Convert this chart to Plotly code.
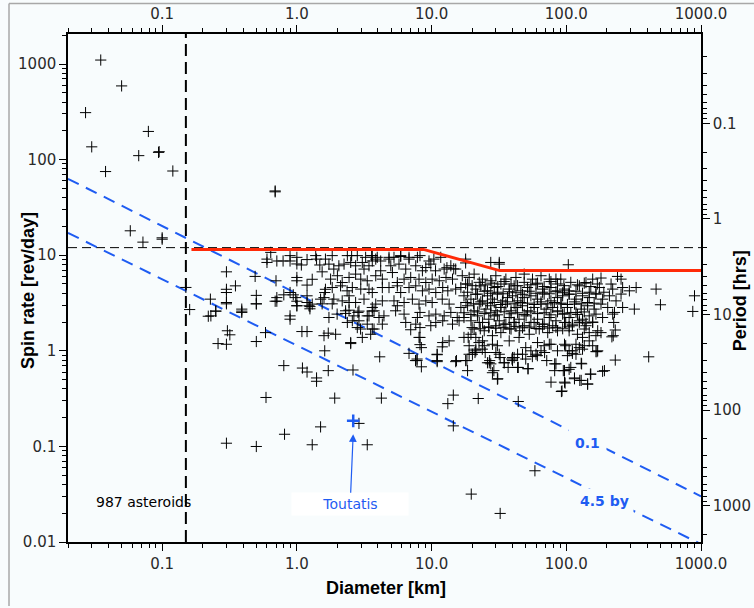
import math
import plotly.graph_objects as go

# ---------------- data ----------------
# very small / fast rotators (left of the 0.15 km line)
diam_small = [0.035, 0.05, 0.027, 0.030, 0.038, 0.067, 0.079, 0.094, 0.095, 0.12, 0.058, 0.072, 0.10, 0.10, 0.69, 0.69]
spin_small = [1100, 590, 310, 136, 75, 110, 197, 119, 121, 76, 18, 13.7, 14.7, 15.2, 47, 46]

# sparse points 0.15 - 4 km
diam_a = [0.16, 0.15, 0.22, 0.25, 0.30, 0.39, 0.50, 0.69, 1.0, 1.25, 1.25, 1.54, 1.83, 2.44, 2.44, 2.3, 2.89, 3.33, 3.63, 2.58,
          2.89, 2.97, 3.63, 0.26, 0.30, 0.305, 0.318, 0.50, 0.585, 1.09, 1.19, 1.59, 1.71, 1.61, 2.51, 0.80, 1.10, 1.19, 1.40, 1.40,
          1.71, 2.61, 0.59, 1.91, 0.30, 0.50, 0.81, 1.30, 1.50, 2.89, 3.33]
spin_a = [2.7, 4.6, 2.3, 2.6, 3.1, 2.6, 3.1, 3.3, 2.96, 2.9, 2.75, 3.1, 3.1, 3.2, 2.66, 2.46, 2.6, 2.32, 2.6, 2.06,
          2.06, 1.69, 1.69, 1.19, 1.17, 1.62, 1.47, 1.25, 1.55, 1.59, 1.59, 1.44, 1.53, 1.0, 1.19, 0.70, 0.66, 0.60, 0.52, 0.48,
          0.62, 0.63, 0.325, 0.32, 0.108, 0.0998, 0.134, 0.104, 0.16, 0.174, 0.104]

# sparse slow rotators 4 - 900 km
diam_b = [4.12, 6.8, 7.8, 7.8, 8.2, 8.4, 8.4, 11, 11, 12, 15.1, 4.24, 14.5, 13.2, 14.5, 22.2, 44, 92, 58.5, 19.7,
          32.3, 409, 869, 500, 320, 231, 192, 144, 126, 115, 98, 77, 82, 82, 95, 105, 130, 151, 169, 52,
          44, 37, 39.5, 41, 31, 29, 26, 27, 18.5, 15.3, 18.3, 11, 11, 7.6, 8.2, 7.0]
spin_b = [0.865, 0.94, 0.82, 0.79, 1.16, 1.08, 0.68, 0.91, 0.77, 1.1, 0.77, 0.32, 0.344, 0.28, 0.164, 0.317, 0.295, 0.375, 0.0556, 0.0317,
          0.0199, 0.865, 2.58, 3.03, 2.73, 0.80, 0.62, 0.448, 0.49, 0.51, 0.46, 0.47, 0.62, 0.73, 0.62, 0.64, 0.73, 0.57, 0.98, 0.65,
          0.67, 0.67, 0.82, 0.85, 0.51, 0.62, 0.75, 0.79, 0.62, 0.79, 0.79, 0.79, 0.92, 0.79, 1.38, 1.66]

diam_c = [18.7, 21.3, 22.5, 21.3, 19, 23.8, 25, 30, 28.3, 32.3, 34.6, 50, 56, 61, 69, 77, 86, 97, 105, 111,
          118, 132, 132, 148, 166, 171, 223, 231]
spin_c = [1.38, 1.38, 1.22, 1.0, 0.92, 1.04, 0.96, 0.96, 1.17, 0.85, 0.75, 0.82, 0.87, 0.89, 0.96, 1.17, 1.0, 1.17, 1.0, 0.94,
          1.17, 1.04, 1.38, 1.27, 1.44, 1.0, 1.44, 1.65]

# 0.2 - 1.7 km
diam_d = [0.64, 0.60, 0.60, 0.71, 0.79, 0.89, 0.89, 1.0, 1.0, 1.19, 1.38, 1.4, 1.48, 1.63, 1.08, 1.54, 0.30, 0.49, 0.70, 1.0,
          1.0, 1.3, 1.19, 1.63, 1.61, 0.35, 0.30, 0.30, 0.5, 0.5, 0.71, 0.71, 0.80, 0.89, 0.94, 0.98, 1.0, 1.0, 1.19, 1.19,
          1.23, 1.3, 1.5, 1.59, 0.39, 0.39, 0.25, 0.23, 0.228, 0.30, 0.89, 0.89]
spin_d = [10.7, 9.1, 8.4, 8.7, 8.7, 9.9, 8.7, 9.5, 8.1, 9.0, 9.9, 9.1, 7.9, 9.1, 7.9, 6.7, 6.7, 6.0, 5.4, 5.85,
          5.4, 5.6, 4.87, 4.4, 4.07, 4.78, 4.4, 4.07, 3.8, 3.1, 3.6, 3.3, 3.85, 4.07, 3.85, 3.6, 3.3, 2.96, 3.76, 3.2,
          2.96, 3.08, 3.47, 3.6, 2.73, 2.52, 2.6, 2.32, 3.47, 3.2, 2.32, 2.14]

# 1.7 - 16 km
diam_e = [1.83, 2.37, 2.55, 2.81, 3.24, 3.59, 3.85, 4.19, 4.83, 5.26, 5.9, 6.8, 7.85, 9.57, 10.4, 11.7,
          1.73, 1.88, 2.05, 2.24, 2.51, 2.73, 3.06, 3.15, 3.43, 3.63, 4.19, 4.98, 5.73, 6.43, 7.63, 8.55, 9.06, 9.87, 10.7, 12.4, 13.9, 15.1,
          1.78, 2.0, 2.17, 2.44, 2.73, 2.98, 3.33, 3.85, 4.31, 5.12, 5.57, 6.25, 7.0, 8.07, 9.06, 10.1, 11.4, 12.8, 14.3,
          1.83, 2.11, 2.36, 2.58, 2.98, 3.43, 3.63, 4.31, 4.83, 5.57, 5.9, 6.8, 7.63, 8.55, 9.57, 10.75, 12.1, 13.2, 15.1,
          1.88, 2.17, 2.44, 2.73, 3.15, 3.63, 3.85, 4.31, 5.26, 5.57, 6.25, 7.2, 8.07, 9.06, 10.1, 12.0, 13.5,
          1.73, 1.99, 2.3, 2.65, 2.84, 3.43, 3.74, 4.07, 4.43, 5.41, 6.25, 7.85, 8.2, 9.57, 10.75, 12.4, 13.9, 15.5,
          2.37, 2.81, 3.33, 3.74, 4.31, 6.43, 7.63, 8.2, 9.87, 10.75, 12.1, 14.3, 16.0,
          1.94, 2.51, 3.06, 3.53, 8.07, 12.1, 13.5,
          3.63, 3.95, 4.83, 5.9, 6.8, 8.2, 13, 14.6, 17.9]
spin_e = [9.9, 9.9, 9.9, 9.9, 9.5, 9.9, 9.1, 8.7, 9.1, 9.5, 9.9, 9.1, 9.5, 8.7, 9.1, 9.5,
          8.07, 7.16, 7.75, 8.07, 8.4, 7.75, 8.4, 7.16, 7.75, 8.7, 6.87, 7.75, 8.07, 7.16, 7.75, 6.87, 7.43, 8.07, 6.87, 7.16, 7.75, 7.16,
          5.62, 6.1, 5.18, 5.85, 6.34, 5.62, 5.4, 6.1, 5.62, 6.59, 5.18, 5.62, 5.85, 5.62, 5.18, 5.62, 5.4, 5.85, 5.62,
          4.59, 4.78, 4.24, 4.59, 4.42, 4.42, 4.07, 4.59, 4.59, 4.78, 4.07, 4.59, 4.78, 4.24, 4.42, 4.07, 4.59, 4.24, 4.42,
          3.47, 3.33, 3.76, 3.2, 3.47, 2.84, 3.08, 3.33, 3.33, 2.96, 3.2, 3.47, 3.08, 3.33, 3.2, 3.47, 3.08,
          2.23, 2.42, 2.62, 2.32, 2.52, 2.32, 2.62, 2.23, 2.32, 2.62, 2.42, 2.23, 2.52, 2.32, 2.42, 2.32, 2.52, 2.23,
          1.98, 1.75, 1.9, 1.69, 1.9, 1.98, 1.9, 1.75, 1.83, 1.98, 2.06, 1.9, 2.06,
          1.49, 1.22, 1.38, 1.49, 1.38, 1.22, 1.27,
          9.9, 9.5, 9.5, 9.7, 9.5, 9.9, 7.4, 7.2, 8.3]

# 16 - 90 km
diam_f = [17.9, 27.5, 31.8, 31.8,
          16.9, 19, 20.7, 23.9, 27.5, 30, 35.6, 42.3, 48.7, 56.1, 64.9, 74.8, 83.8,
          16.5, 18.5, 21.3, 23.2, 26, 29.2, 32.7, 37.7, 41, 46, 51.5, 59.6, 66.7, 76.9, 86.1,
          17.4, 19.6, 21.9, 23.9, 26, 28.3, 30.8, 33.6, 36.6, 39.9, 43.5, 48.7, 54.6, 61.2, 68.5, 76.9, 86.1,
          16.5, 18.5, 20.7, 22.6, 25.3, 27.5, 30, 32.7, 35.6, 38.9, 42.3, 47.3, 51.5, 57.7, 64.9, 70.9, 79.3, 86.1,
          17.4, 19.6, 21.9, 23.9, 26.6, 29.2, 31.8, 34.6, 37.7, 41, 44.6, 50.3, 54.6, 61.2, 66.7, 74.8, 83.8]
spin_f = [9.1, 8.4, 8.07, 8.4,
          6.1, 5.85, 6.34, 5.62, 5.4, 6.1, 5.62, 5.85, 6.34, 5.62, 6.1, 5.62, 5.62,
          4.59, 4.99, 4.42, 4.78, 4.24, 4.59, 4.99, 4.42, 4.78, 4.24, 4.59, 4.99, 4.42, 4.59, 4.24,
          3.76, 3.47, 3.92, 3.33, 3.76, 3.47, 3.92, 3.33, 3.6, 3.76, 3.33, 3.6, 3.76, 3.47, 3.92, 3.33, 3.6,
          2.84, 2.96, 2.62, 3.08, 2.73, 2.96, 2.62, 2.84, 3.08, 2.62, 2.84, 2.96, 2.62, 2.84, 3.08, 2.73, 2.84, 2.62,
          2.23, 2.06, 2.32, 1.98, 2.14, 2.32, 2.06, 1.9, 2.23, 1.98, 2.14, 2.32, 1.98, 2.14, 1.9, 2.23, 2.06]

diam_g = [17.4, 19.6, 20.7, 22.6, 24.6, 26.6, 28.3, 30, 32.7, 35.6, 38.9, 41, 45.1, 48.7, 53.1, 57.7, 63, 68.5, 72.8, 79.3, 86.1, 44.6, 37.7,
          17.9, 21, 20.1, 26.8, 27.5, 28.3, 31.8, 34.6, 39.9, 39.9, 43.5, 43.5, 47.3, 52, 59.6, 64.9, 71.6, 74.8, 83.8, 30.8,
          19, 21.3, 23.9, 24.6, 30.8, 50, 54.6, 61.2, 68.5]
spin_g = [1.38, 1.49, 1.69, 1.98, 1.62, 1.75, 1.44, 1.83, 1.55, 1.9, 1.69, 1.98, 1.62, 1.83, 1.49, 1.98, 1.69, 1.9, 1.55, 1.83, 1.62, 1.38, 1.27,
          0.79, 0.96, 0.92, 0.75, 0.73, 0.59, 0.92, 0.75, 0.79, 0.85, 0.92, 0.67, 0.92, 0.65, 0.92, 1.0, 0.79, 1.17, 0.73, 0.506,
          1.13, 1.04, 1.27, 1.13, 1.13, 1.08, 1.0, 1.22, 1.13]

# 90 - 900 km
diam_h = [103.5, 91, 157, 181, 240, 255, 140, 125, 105, 97, 176, 215, 221, 262, 294, 330, 464, 895,
          93.9, 105, 118, 132, 148, 166, 186, 209, 234, 255,
          91.4, 102, 115, 129, 144, 161, 181, 203, 228, 262,
          93.9, 105, 118, 132, 148, 166, 186, 221,
          97, 111, 125, 140, 157,
          99, 111, 125, 140, 157, 105, 121, 136, 148, 171, 181, 225, 218, 157, 166, 99, 111, 125, 136, 102,
          118, 129, 108, 97, 152, 186, 115, 129, 144, 97, 93]
spin_h = [7.94, 5.62, 5.62, 5.77, 6.0, 5.62, 5.18, 4.78, 4.24, 4.42, 4.59, 4.99, 4.42, 4.59, 4.24, 4.59, 4.42, 3.76,
          3.76, 3.92, 3.47, 3.76, 3.6, 3.92, 3.47, 3.76, 3.33, 3.92,
          3.08, 2.84, 3.08, 2.73, 2.96, 2.73, 3.08, 2.84, 2.52, 2.84,
          2.42, 2.23, 2.52, 2.14, 2.32, 2.42, 2.23, 2.42,
          1.98, 1.9, 2.06, 1.95, 2.0,
          1.98, 1.83, 1.98, 1.83, 1.98, 1.62, 1.49, 1.69, 1.55, 1.62, 1.55, 1.98, 1.4, 1.13, 0.98, 1.13, 1.0, 1.08, 1.13, 0.89,
          0.92, 0.74, 0.67, 0.62, 0.57, 0.61, 0.52, 0.49, 0.45, 0.47, 0.38]

# dense core of the main-belt cloud
diam_core = [17.9, 20, 22.6, 25, 28, 31, 34.6, 38.9, 43.5, 48.7, 54.6, 61.2, 68.5, 76.9, 86.1, 96, 108, 121, 136, 152, 170,
             18.5, 21.3, 24.6, 27.5, 30.8, 34, 37.7, 42.3, 47.3, 53.1, 59.6, 66.7, 74.8, 83.8, 94, 105, 118, 132, 148, 166, 190,
             18, 20.5, 23.2, 26, 29.2, 32.7, 36.6, 41, 46, 51.5, 57.7, 64.9, 72.8, 81.6, 91.4, 102, 115, 129, 144, 161,
             17.4, 19.6, 22, 24.6, 27.5, 30.8, 34.6, 38.9, 43.5, 48.7, 54.6, 61.2, 68.5, 76.9, 86.1, 96.6, 108, 121, 136,
             20, 23, 26.6, 30, 34, 38, 42.3, 47.3, 53.1, 59.6, 66.7, 74.8, 83.8, 94, 105]
spin_core = [5.0, 4.8, 5.2, 4.9, 5.1, 4.7, 5.3, 5.0, 4.8, 5.2, 4.9, 5.1, 4.7, 5.3, 5.0, 4.8, 5.2, 4.9, 5.1, 4.7, 5.0,
             4.1, 3.9, 4.2, 4.0, 4.1, 3.95, 4.15, 4.05, 3.9, 4.2, 4.0, 4.1, 3.95, 4.15, 4.05, 3.9, 4.2, 4.0, 4.1, 3.95, 4.1,
             3.2, 3.1, 3.25, 3.15, 3.2, 3.05, 3.25, 3.1, 3.2, 3.15, 3.05, 3.25, 3.1, 3.2, 3.15, 3.05, 3.25, 3.1, 3.2, 3.15,
             2.5, 2.4, 2.55, 2.45, 2.5, 2.38, 2.56, 2.44, 2.5, 2.4, 2.55, 2.45, 2.5, 2.38, 2.56, 2.44, 2.5, 2.4, 2.55,
             1.75, 1.7, 1.78, 1.72, 1.76, 1.7, 1.8, 1.74, 1.77, 1.71, 1.79, 1.73, 1.76, 1.7, 1.78]

toutatis_d = [2.62]
toutatis_s = [0.185]

# reference lines
spin_barrier = 12.0            # rev/day (~2 h period)
size_limit = 0.15              # km
limit_d = [0.165, 8.7, 32, 1000]
limit_s = [11.5, 11.5, 6.9, 6.9]
yorp_01_d = [0.02, 1000]
yorp_01_s = [63, 0.030]
yorp_45_d = [0.02, 1000]
yorp_45_s = [17.1, 0.0095]

x_ticks = [0.1, 1, 10, 100, 1000]
x_labels = ["0.1", "1.0", "10.0", "100.0", "1000.0"]
y_ticks = [0.01, 0.1, 1, 10, 100, 1000]
y_labels = ["0.01", "0.1", "1", "10", "100", "1000"]
p_ticks = [0.1, 1, 10, 100, 1000]
p_labels = ["0.1", "1", "10", "100", "1000"]

# ---------------- figure ----------------
D_MIN, D_MAX = 0.02, 1000
S_MIN, S_MAX = 0.01, 2060
BG = "#f8fcfd"
BLUE = "#1f5cf2"
RED = "#ff2a08"

groups_d = [diam_small, diam_a, diam_b, diam_c, diam_d, diam_e, diam_f, diam_g, diam_h, diam_core]
groups_s = [spin_small, spin_a, spin_b, spin_c, spin_d, spin_e, spin_f, spin_g, spin_h, spin_core]
all_d, all_s = [], []
for gd, gs in zip(groups_d, groups_s):
    assert len(gd) == len(gs)
    all_d += gd
    all_s += gs

fig = go.Figure()

fig.add_trace(go.Scatter(x=[D_MIN, D_MAX], y=[spin_barrier, spin_barrier], mode="lines",
                         line=dict(color="black", width=1, dash="9px,5px"), hoverinfo="skip"))
fig.add_trace(go.Scatter(x=[size_limit, size_limit], y=[S_MIN, S_MAX], mode="lines",
                         line=dict(color="black", width=2, dash="12px,6px"), hoverinfo="skip"))
fig.add_trace(go.Scatter(x=yorp_01_d, y=yorp_01_s, mode="lines",
                         line=dict(color=BLUE, width=2, dash="12px,8px"), hoverinfo="skip"))
fig.add_trace(go.Scatter(x=yorp_45_d, y=yorp_45_s, mode="lines",
                         line=dict(color=BLUE, width=2, dash="12px,8px"), hoverinfo="skip"))

fig.add_trace(go.Scatter(x=all_d, y=all_s, mode="markers",
                         marker=dict(symbol="cross-thin", size=8, color="black",
                                     line=dict(width=1, color="black")),
                         hoverinfo="skip"))
fig.add_trace(go.Scatter(x=limit_d, y=limit_s, mode="lines",
                         line=dict(color=RED, width=3), hoverinfo="skip"))
fig.add_trace(go.Scatter(x=toutatis_d, y=toutatis_s, mode="markers",
                         marker=dict(symbol="cross-thin", size=9, color=BLUE,
                                     line=dict(width=2.5, color=BLUE)),
                         hoverinfo="skip"))
# carrier for the secondary axes
fig.add_trace(go.Scatter(x=[1], y=[1], xaxis="x2", yaxis="y2", mode="markers",
                         marker=dict(opacity=0), hoverinfo="skip"))

def minor_vals(lo, hi):
    out = []
    for e in range(-3, 4):
        for m in range(2, 10):
            v = m * 10 ** e
            if lo <= v <= hi:
                out.append(v)
    return out

TICKFONT = dict(family="DejaVu Sans", size=15, color="#2a2a2a")
common = dict(type="log", showline=True, linecolor="black", linewidth=1.5, ticks="outside",
              ticklen=7, tickwidth=1.2, tickcolor="black", showgrid=False, zeroline=False,
              tickfont=TICKFONT, tickmode="array", automargin=False)
xminor = dict(tickmode="array", tickvals=minor_vals(D_MIN, D_MAX), ticks="outside",
              ticklen=4, tickwidth=1, tickcolor="black", showgrid=False)

P_BOTTOM = 24 / S_MIN
P_TOP = 24 / S_MAX

fig.update_layout(
    width=754, height=608,
    margin=dict(l=68, r=53, t=34, b=66, autoexpand=False),
    paper_bgcolor=BG, plot_bgcolor=BG, showlegend=False,
    xaxis=dict(range=[math.log10(D_MIN), math.log10(D_MAX)], tickvals=x_ticks, ticktext=x_labels,
               minor=xminor, **common),
    xaxis2=dict(range=[math.log10(D_MIN), math.log10(D_MAX)], tickvals=x_ticks, ticktext=x_labels,
                minor=xminor, overlaying="x", side="top", anchor="y", **common),
    yaxis=dict(range=[math.log10(S_MIN), math.log10(S_MAX)], tickvals=y_ticks, ticktext=y_labels,
               minor=dict(tickmode="array", tickvals=minor_vals(S_MIN, S_MAX), ticks="outside",
                          ticklen=4, tickwidth=1, tickcolor="black", showgrid=False),
               **common),
    yaxis2=dict(range=[math.log10(P_BOTTOM), math.log10(P_TOP)], tickvals=p_ticks, ticktext=p_labels,
                minor=dict(tickmode="array", tickvals=minor_vals(P_TOP, P_BOTTOM), ticks="outside",
                           ticklen=4, tickwidth=1, tickcolor="black", showgrid=False),
                overlaying="y", side="right", anchor="x", **common),
)

TITLE = dict(family="Liberation Sans, Arial, sans-serif", size=18, color="black")
ann = [
    dict(text="<b>Diameter [km]</b>", xref="paper", yref="paper", x=0.502, y=-0.0906,
         showarrow=False, font=TITLE, xanchor="center", yanchor="middle"),
    dict(text="<b>Spin rate [rev/day]</b>", xref="paper", yref="paper", x=-0.0632, y=0.496,
         showarrow=False, font=TITLE, textangle=-90, xanchor="center", yanchor="middle"),
    dict(text="<b>Period [hrs]</b>", xref="paper", yref="paper", x=1.0616, y=0.476,
         showarrow=False, font=TITLE, textangle=-90, xanchor="center", yanchor="middle"),
    dict(text="<b>0.1</b>", xref="x", yref="y", x=2.156, y=-0.962, showarrow=False,
         font=dict(family="DejaVu Sans", size=14, color=BLUE), bgcolor=BG, borderpad=6),
    dict(text="<b>4.5 by</b>", xref="x", yref="y", x=2.283, y=-1.569, showarrow=False,
         font=dict(family="DejaVu Sans", size=14, color=BLUE), bgcolor=BG, borderpad=4),
    dict(text="987 asteroids", xref="x", yref="y", x=-1.138, y=-1.58, showarrow=False,
         font=dict(family="DejaVu Sans", size=14, color="black")),
    dict(text="Toutatis", xref="x", yref="y", x=0.418, y=-0.872, ax=-3, ay=70,
         showarrow=True, arrowhead=2, arrowsize=1.3, arrowwidth=1.2, arrowcolor=BLUE,
         font=dict(family="DejaVu Sans", size=14, color=BLUE), bgcolor="white",
         width=112, height=18, borderpad=2),
]
fig.update_layout(annotations=ann)

fig.update_layout(shapes=[
    dict(type="line", xref="paper", yref="paper", x0=-0.0932, x1=1.1, y0=1.06, y1=1.06,
         line=dict(color="#a8a8a8", width=1.5)),
    dict(type="line", xref="paper", yref="paper", x0=-0.0932, x1=-0.0932, y0=1.06, y1=-0.126,
         line=dict(color="#a8a8a8", width=1.5)),
])

fig.write_html("out.html", config={"displayModeBar": False},
               post_script="document.body.style.margin='0';document.body.style.background='%s';" % BG)
